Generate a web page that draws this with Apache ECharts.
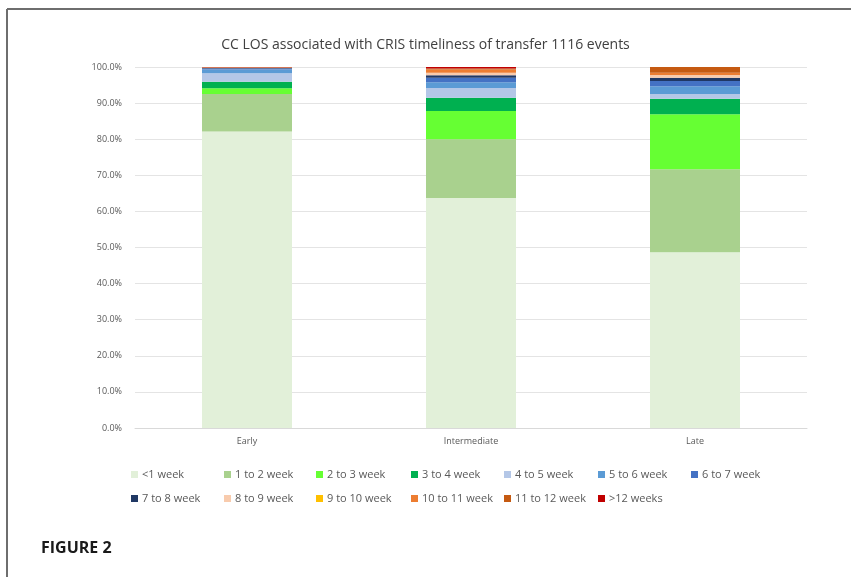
<!DOCTYPE html>
<html>
<head>
<meta charset="utf-8">
<script src="https://cdn.jsdelivr.net/npm/echarts@6/dist/echarts.min.js"></script>
<style>
  html, body { margin: 0; padding: 0; background: #fff; }
  #chart { width: 851px; height: 577px; }
</style>
</head>
<body>
<div id="chart"></div>
<script>
// Categories (timeliness of transfer)
const categories = ['Early', 'Intermediate', 'Late'];

// Share of events (%) for each critical-care length-of-stay band
const lt1Week     = [82.1, 63.7, 48.7];
const wk1to2      = [10.4, 16.3, 23.0];
const wk2to3      = [1.6, 7.8, 15.2];
const wk3to4      = [1.8, 3.7, 4.3];
const wk4to5      = [2.4, 2.7, 1.3];
const wk5to6      = [1.0, 1.6, 2.2];
const wk6to7      = [0.3, 1.2, 1.4];
const wk7to8      = [0.1, 0.7, 0.9];
const wk8to9      = [0.1, 0.7, 0.8];
const wk9to10     = [0.0, 0.0, 0.0];
const wk10to11    = [0.0, 0.9, 0.6];
const wk11to12    = [0.1, 0.3, 1.6];
const gt12Weeks   = [0.1, 0.4, 0.0];

const seriesNames = ['<1 week', '1 to 2 week', '2 to 3 week', '3 to 4 week', '4 to 5 week',
  '5 to 6 week', '6 to 7 week', '7 to 8 week', '8 to 9 week', '9 to 10 week',
  '10 to 11 week', '11 to 12 week', '>12 weeks'];
const seriesValues = [lt1Week, wk1to2, wk2to3, wk3to4, wk4to5, wk5to6, wk6to7,
  wk7to8, wk8to9, wk9to10, wk10to11, wk11to12, gt12Weeks];

// Y-axis ticks
const yTicks = [0, 10, 20, 30, 40, 50, 60, 70, 80, 90, 100];

const colors = ['#E2F0D9', '#A9D18E', '#66FF33', '#00B050', '#B4C7E7', '#5B9BD5',
  '#4472C4', '#203864', '#F8CBAD', '#FFC000', '#ED7D31', '#C55A11', '#C00000'];

const chart = echarts.init(document.getElementById('chart'));

// Legend laid out in two rows of aligned columns
const colX = [126, 219, 311, 406, 499, 593, 686];
const legends = seriesNames.map((name, i) => ({
  data: [name],
  left: colX[i % 7],
  top: i < 7 ? 464 : 488,
  itemWidth: 7,
  itemHeight: 7,
  itemGap: 4,
  icon: 'rect',
  textStyle: { color: '#595959', fontSize: 11, fontFamily: 'Open Sans', padding: [0, 0, 0, -1] },
  selectedMode: false
}));

chart.setOption({
  animation: false,
  color: colors,
  title: {
    text: 'CC LOS associated with CRIS timeliness of transfer 1116 events',
    left: 'center',
    top: 33,
    textStyle: { color: '#404040', fontSize: 14, fontWeight: 'normal', fontFamily: 'Open Sans' }
  },
  legend: legends,
  grid: { left: 135, right: 44, top: 67, bottom: 149 },
  xAxis: {
    type: 'category',
    data: categories,
    axisLine: { lineStyle: { color: '#D9D9D9' } },
    axisTick: { show: false },
    axisLabel: { color: '#595959', fontSize: 9, fontFamily: 'Open Sans', margin: 9 }
  },
  yAxis: {
    type: 'value',
    min: yTicks[0],
    max: yTicks[yTicks.length - 1],
    interval: 10,
    axisLine: { show: false },
    axisTick: { show: false },
    splitLine: { lineStyle: { color: '#E4E4E4' } },
    axisLabel: {
      color: '#595959', fontSize: 9, fontFamily: 'Open Sans', margin: 13,
      formatter: v => v.toFixed(1) + '%'
    }
  },
  series: seriesNames.map((name, i) => ({
    name,
    type: 'bar',
    stack: 'total',
    barWidth: 90,
    data: seriesValues[i],
    itemStyle: { color: colors[i] }
  })),
  graphic: [
    { type: 'line', shape: { x1: 7, y1: 9, x2: 851, y2: 9 }, style: { stroke: '#6E6E6E', lineWidth: 2 } },
    { type: 'line', shape: { x1: 7, y1: 9, x2: 7, y2: 577 }, style: { stroke: '#6E6E6E', lineWidth: 2 } },
    {
      type: 'text', left: 41, top: 540,
      style: { text: 'FIGURE 2', fill: '#1a1a1a', font: 'bold 16px "Open Sans"' }
    }
  ]
});
</script>
</body>
</html>
